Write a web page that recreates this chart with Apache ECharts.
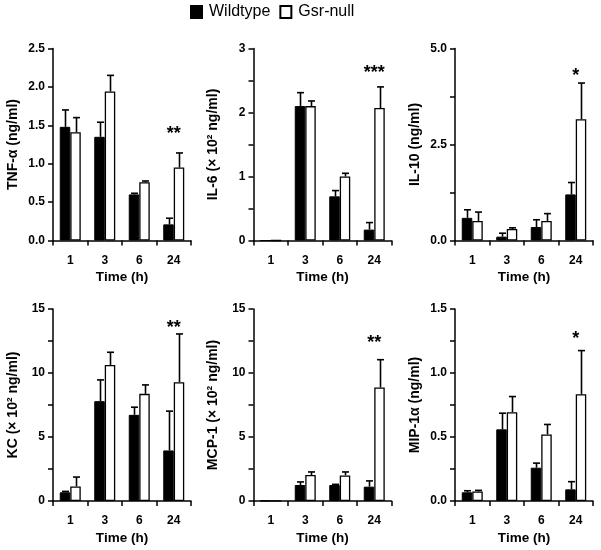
<!DOCTYPE html>
<html>
<head>
<meta charset="utf-8">
<script src="https://cdn.jsdelivr.net/npm/echarts@6/dist/echarts.min.js"></script>
<style>html,body{margin:0;padding:0;background:#fff;}#c{width:601px;height:550px;}</style>
</head>
<body>
<div id="c"></div>
<script>
// ---- data ----
const categories = ['1', '3', '6', '24'];
const seriesNames = ['Wildtype', 'Gsr-null'];

const tnfWT = [1.48, 1.35, 0.60, 0.21];
const tnfWTsem = [0.22, 0.19, 0.015, 0.08];
const tnfKO = [1.41, 1.94, 0.76, 0.95];
const tnfKOsem = [0.19, 0.21, 0.015, 0.19];

const il6WT = [0, 2.10, 0.69, 0.17];
const il6WTsem = [0, 0.21, 0.09, 0.11];
const il6KO = [0, 2.10, 1.00, 2.07];
const il6KOsem = [0, 0.08, 0.05, 0.33];

const il10WT = [0.59, 0.10, 0.35, 1.20];
const il10WTsem = [0.21, 0.09, 0.19, 0.31];
const il10KO = [0.51, 0.30, 0.51, 3.16];
const il10KOsem = [0.23, 0.03, 0.19, 0.94];

const kcWT = [0.68, 7.80, 6.73, 3.95];
const kcWTsem = [0.07, 1.66, 0.60, 3.07];
const kcKO = [1.14, 10.63, 8.37, 9.28];
const kcKOsem = [0.73, 0.99, 0.70, 3.77];

const mcpWT = [0.02, 1.25, 1.25, 1.12];
const mcpWTsem = [0, 0.24, 0.05, 0.45];
const mcpKO = [0.02, 2.03, 2.00, 8.87];
const mcpKOsem = [0, 0.24, 0.27, 2.17];

const mipWT = [0.068, 0.56, 0.26, 0.091];
const mipWTsem = [0.012, 0.126, 0.036, 0.06];
const mipKO = [0.075, 0.694, 0.52, 0.834];
const mipKOsem = [0.008, 0.122, 0.078, 0.341];

const yNames = ['TNF-\u03B1 (ng/ml)', 'IL-6 (\u00D7 10\u00B2 ng/ml)', 'IL-10 (ng/ml)',
                'KC (\u00D7 10\u00B2 ng/ml)', 'MCP-1 (\u00D7 10\u00B2 ng/ml)', 'MIP-1\u03B1 (ng/ml)'];
const yMax = [2.5, 3, 5, 15, 15, 1.5];
const yLabelStep = [0.5, 1, 2.5, 5, 5, 0.5];   // labelled ticks
const yTickStep = [0.5, 0.5, 1.25, 2.5, 2.5, 0.25]; // all ticks
const yDecimals = [1, 0, 1, 0, 0, 1];
const sigText = ['**', '***', '*', '**', '**', '*'];
const sigY = [1.44, 2.68, 4.4, 13.8, 12.65, 1.30];
const xName = 'Time (h)';

const wtData = [tnfWT, il6WT, il10WT, kcWT, mcpWT, mipWT];
const wtSem = [tnfWTsem, il6WTsem, il10WTsem, kcWTsem, mcpWTsem, mipWTsem];
const koData = [tnfKO, il6KO, il10KO, kcKO, mcpKO, mipKO];
const koSem = [tnfKOsem, il6KOsem, il10KOsem, kcKOsem, mcpKOsem, mipKOsem];

// ---- layout ----
const FONT = '"Liberation Sans", Arial, Helvetica, sans-serif';
const BW = 10.5;
const gridLefts = [53, 253.5, 455];
const gridTops = [48.5, 309];
const GW = 138, GH = 192;

const chart = echarts.init(document.getElementById('c'), null, {renderer: 'canvas'});

const grids = [], xAxes = [], yAxes = [], series = [];

function errRender(sign) {
  return function (params, api) {
    const idx = api.value(0), m = api.value(1), e = api.value(2);
    if (!(e > 0)) return;
    const p0 = api.coord([idx, m]);
    const p1 = api.coord([idx, m + e]);
    const x = Math.round(p0[0] + sign * BW / 2) + 0.5;
    return {
      type: 'group',
      children: [
        {type: 'line', shape: {x1: x, y1: p0[1], x2: x, y2: p1[1]}, style: {stroke: '#000', lineWidth: 1.6}},
        {type: 'line', shape: {x1: x - 3.5, y1: p1[1], x2: x + 3.5, y2: p1[1]}, style: {stroke: '#000', lineWidth: 1.6}}
      ]
    };
  };
}

for (let i = 0; i < 6; i++) {
  const row = Math.floor(i / 3), col = i % 3;
  grids.push({left: gridLefts[col], top: gridTops[row], width: GW, height: GH, containLabel: false, outerBoundsMode: 'none'});
  xAxes.push({
    type: 'category', gridIndex: i, data: categories,
    name: xName, nameLocation: 'middle', nameGap: 30,
    nameTextStyle: {fontFamily: FONT, fontWeight: 'bold', fontSize: 13.5, color: '#000'},
    axisLine: {lineStyle: {color: '#000', width: 1.5}},
    axisTick: {show: true, length: 5, lineStyle: {color: '#000', width: 1.5}},
    axisLabel: {fontFamily: FONT, fontWeight: 'bold', fontSize: 12, color: '#000', margin: 14},
    splitLine: {show: false}
  });
  const dec = yDecimals[i], step = yLabelStep[i];
  yAxes.push({
    type: 'value', gridIndex: i, min: 0, max: yMax[i], interval: yTickStep[i],
    name: yNames[i], nameLocation: 'middle', nameGap: 33, nameRotate: 90, nameMoveOverlap: false,
    nameTextStyle: {fontFamily: FONT, fontWeight: 'bold', fontSize: 14, color: '#000'},
    axisLine: {show: true, lineStyle: {color: '#000', width: 1.5}},
    axisTick: {show: true, length: 5, lineStyle: {color: '#000', width: 1.5}},
    axisLabel: {fontFamily: FONT, fontWeight: 'bold', fontSize: 12, color: '#000', margin: 8,
                formatter: function (v) {
                  const r = v / step;
                  return Math.abs(r - Math.round(r)) < 1e-6 ? Number(v).toFixed(dec) : '';
                }},
    splitLine: {show: false}
  });
  series.push({
    type: 'bar', name: seriesNames[0], xAxisIndex: i, yAxisIndex: i,
    data: wtData[i], barWidth: BW, barGap: '0%',
    itemStyle: {color: '#000', borderColor: '#000', borderWidth: 1}, z: 2
  });
  series.push({
    type: 'bar', name: seriesNames[1], xAxisIndex: i, yAxisIndex: i,
    data: koData[i], barWidth: BW, barGap: '0%',
    itemStyle: {color: '#fff', borderColor: '#000', borderWidth: 1.3}, z: 2
  });
  series.push({
    type: 'custom', name: 'errWT' + i, xAxisIndex: i, yAxisIndex: i,
    data: wtData[i].map((v, k) => [k, v, wtSem[i][k]]),
    encode: {x: 0, y: 1}, renderItem: errRender(-1), z: 3, silent: true
  });
  series.push({
    type: 'custom', name: 'errKO' + i, xAxisIndex: i, yAxisIndex: i,
    data: koData[i].map((v, k) => [k, v, koSem[i][k]]),
    encode: {x: 0, y: 1}, renderItem: errRender(1), z: 3, silent: true
  });
  series.push({
    type: 'custom', name: 'sig' + i, xAxisIndex: i, yAxisIndex: i,
    data: [[categories.length - 1, sigY[i]]],
    encode: {x: 0, y: 1}, silent: true, z: 4,
    renderItem: (function (txt) {
      return function (params, api) {
        const p = api.coord([api.value(0), api.value(1)]);
        return {type: 'text', style: {text: txt, x: p[0], y: p[1] + 4, textAlign: 'center', textVerticalAlign: 'middle',
                font: 'bold 18px ' + FONT, fill: '#000'}};
      };
    })(sigText[i])
  });
}

chart.setOption({
  animation: false,
  backgroundColor: '#fff',
  legend: {
    data: [{name: seriesNames[0], icon: 'rect'}, {name: seriesNames[1], icon: 'rect'}],
    left: 190, top: 4, padding: 0, itemWidth: 11, itemHeight: 12, itemGap: 9,
    textStyle: {fontFamily: FONT, fontSize: 16, color: '#000', padding: [0, 0, 0, 2]},
    selectedMode: false
  },
  grid: grids, xAxis: xAxes, yAxis: yAxes, series: series
});
</script>
</body>
</html>
